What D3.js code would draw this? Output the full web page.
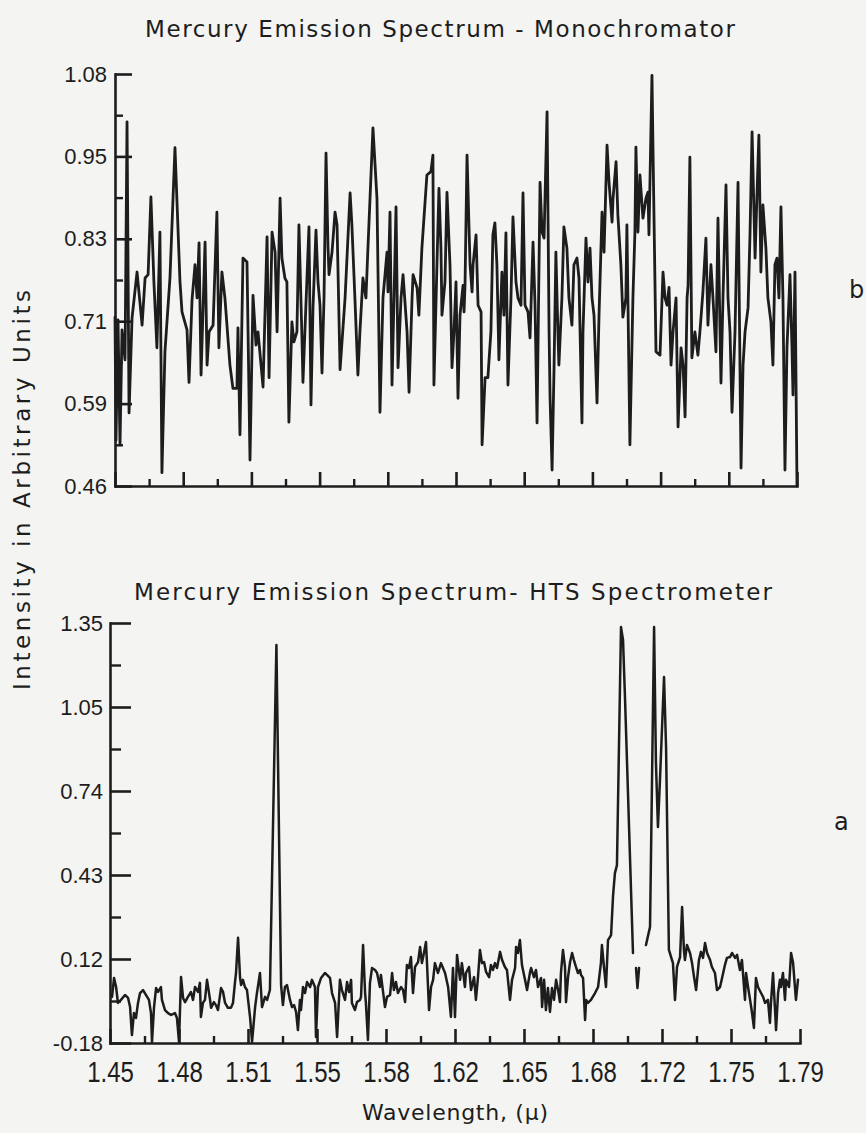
<!DOCTYPE html>
<html>
<head>
<meta charset="utf-8">
<script src="https://cdn.jsdelivr.net/npm/d3@7"></script>
<style>
  html, body { margin: 0; padding: 0; background: #f4f4f2; }
  svg { display: block; }
</style>
</head>
<body>
<svg id="chart" width="866" height="1133"></svg>
<script>
// ---- data -------------------------------------------------------------
// Wavelength axis labels (micrometres) and intensity labels for each panel
const xTickLabels = ["1.45","1.48","1.51","1.55","1.58","1.62","1.65","1.68","1.72","1.75","1.79"];
const monoTickLabels = ["0.46","0.59","0.71","0.83","0.95","1.08"];
const htsTickLabels = ["-0.18","0.12","0.43","0.74","1.05","1.35"];

// Panel b: monochromator scan
const monoWavelength = [
1.4500,1.4505,1.4515,1.4525,1.4535,1.4550,1.4560,1.4570,1.4585,1.4610,
1.4635,1.4650,1.4665,1.4679,1.4694,1.4709,1.4724,1.4734,1.4749,1.4774,
1.4799,1.4824,1.4834,1.4859,1.4869,1.4884,1.4899,1.4909,1.4919,1.4929,
1.4949,1.4959,1.4969,1.4989,1.5008,1.5018,1.5033,1.5048,1.5073,1.5088,
1.5108,1.5113,1.5123,1.5138,1.5158,1.5173,1.5188,1.5203,1.5213,1.5238,
1.5258,1.5268,1.5283,1.5298,1.5308,1.5323,1.5332,1.5347,1.5357,1.5367,
1.5382,1.5392,1.5407,1.5417,1.5432,1.5437,1.5457,1.5467,1.5477,1.5487,
1.5502,1.5512,1.5522,1.5532,1.5542,1.5552,1.5562,1.5567,1.5582,1.5597,
1.5607,1.5622,1.5647,1.5672,1.5681,1.5696,1.5711,1.5721,1.5736,1.5751,
1.5761,1.5786,1.5806,1.5821,1.5836,1.5856,1.5861,1.5871,1.5881,1.5891,
1.5901,1.5911,1.5926,1.5936,1.5956,1.5966,1.5981,1.5986,1.6006,1.6015,
1.6030,1.6055,1.6075,1.6085,1.6090,1.6105,1.6115,1.6125,1.6130,1.6145,
1.6155,1.6170,1.6180,1.6190,1.6200,1.6210,1.6220,1.6235,1.6240,1.6245,
1.6255,1.6270,1.6280,1.6285,1.6300,1.6310,1.6325,1.6330,1.6345,1.6359,
1.6374,1.6384,1.6394,1.6404,1.6414,1.6429,1.6439,1.6449,1.6459,1.6474,
1.6484,1.6499,1.6509,1.6524,1.6534,1.6544,1.6559,1.6569,1.6584,1.6594,
1.6604,1.6619,1.6629,1.6639,1.6654,1.6664,1.6669,1.6679,1.6689,1.6698,
1.6708,1.6713,1.6728,1.6738,1.6753,1.6763,1.6778,1.6788,1.6803,1.6813,
1.6828,1.6833,1.6848,1.6858,1.6868,1.6878,1.6888,1.6903,1.6913,1.6928,
1.6938,1.6953,1.6963,1.6978,1.6983,1.6998,1.7007,1.7022,1.7032,1.7047,
1.7052,1.7067,1.7082,1.7092,1.7097,1.7107,1.7117,1.7132,1.7147,1.7157,
1.7162,1.7177,1.7182,1.7197,1.7217,1.7232,1.7242,1.7252,1.7262,1.7272,
1.7282,1.7297,1.7307,1.7322,1.7332,1.7342,1.7352,1.7357,1.7366,1.7376,
1.7391,1.7406,1.7416,1.7431,1.7446,1.7456,1.7471,1.7481,1.7496,1.7506,
1.7521,1.7531,1.7546,1.7556,1.7566,1.7576,1.7591,1.7606,1.7621,1.7631,
1.7641,1.7656,1.7666,1.7676,1.7691,1.7700,1.7710,1.7720,1.7730,1.7745,
1.7755,1.7770,1.7780,1.7790,1.7800,1.7810,1.7820,1.7830,1.7840,1.7850,
1.7865,1.7875,1.7880,1.7890,1.7900
];
const monoIntensity = [
0.714,0.529,0.710,0.522,0.695,0.650,1.008,0.570,0.713,0.782,
0.702,0.773,0.778,0.895,0.767,0.668,0.842,0.480,0.662,0.773,
0.969,0.767,0.722,0.695,0.616,0.740,0.793,0.743,0.826,0.627,
0.827,0.642,0.692,0.702,0.872,0.668,0.782,0.743,0.642,0.607,
0.607,0.698,0.537,0.803,0.797,0.499,0.747,0.672,0.692,0.609,
0.835,0.623,0.842,0.812,0.692,0.893,0.803,0.773,0.767,0.556,
0.707,0.677,0.692,0.853,0.683,0.616,0.773,0.850,0.582,0.728,
0.845,0.767,0.732,0.630,0.743,0.961,0.818,0.778,0.812,0.872,
0.853,0.635,0.743,0.901,0.853,0.743,0.627,0.692,0.773,0.743,
0.818,0.999,0.893,0.571,0.743,0.812,0.752,0.872,0.612,0.743,
0.880,0.638,0.743,0.778,0.692,0.601,0.743,0.778,0.758,0.717,
0.818,0.928,0.933,0.958,0.612,0.793,0.908,0.818,0.717,0.767,
0.902,0.793,0.638,0.692,0.767,0.592,0.717,0.762,0.722,0.762,
0.958,0.793,0.752,0.793,0.838,0.732,0.722,0.522,0.623,0.623,
0.692,0.838,0.856,0.793,0.650,0.782,0.717,0.841,0.612,0.743,
0.865,0.767,0.743,0.732,0.901,0.732,0.722,0.683,0.827,0.732,
0.555,0.917,0.842,0.833,1.023,0.692,0.592,0.484,0.642,0.812,
0.692,0.642,0.743,0.850,0.818,0.743,0.702,0.793,0.803,0.773,
0.555,0.692,0.833,0.767,0.818,0.743,0.717,0.585,0.717,0.872,
0.812,0.973,0.917,0.857,0.893,0.948,0.868,0.793,0.714,0.743,
0.853,0.522,0.743,0.842,0.970,0.842,0.928,0.863,0.893,0.902,
0.838,1.078,0.969,0.662,0.657,0.782,0.743,0.732,0.759,0.642,
0.692,0.743,0.549,0.668,0.642,0.564,0.743,0.762,0.955,0.653,
0.692,0.657,0.692,0.752,0.833,0.702,0.793,0.743,0.662,0.863,
0.615,0.743,0.913,0.743,0.692,0.571,0.692,0.917,0.487,0.642,
0.692,0.728,0.842,0.993,0.803,0.893,0.988,0.782,0.883,0.818,
0.743,0.707,0.642,0.793,0.803,0.743,0.880,0.743,0.484,0.668,
0.778,0.668,0.597,0.782,0.460
];

// Panel a: HTS spectrometer scan (null marks a break in the pen trace)
const htsWavelength = [
1.4510,1.4520,1.4530,1.4539,1.4554,1.4574,1.4589,1.4599,1.4608,1.4618,
1.4628,1.4638,1.4648,1.4663,1.4677,1.4692,1.4702,1.4707,1.4717,1.4727,
1.4737,1.4751,1.4756,1.4771,1.4786,1.4801,1.4820,1.4830,1.4840,1.4850,
1.4860,1.4870,1.4884,1.4899,1.4909,1.4919,1.4934,1.4943,1.4948,1.4958,
1.4968,1.4978,1.4993,1.4998,1.5012,1.5022,1.5032,1.5047,1.5057,1.5067,
1.5081,1.5096,1.5106,1.5116,1.5121,1.5131,1.5141,1.5146,1.5155,1.5165,
1.5175,1.5190,1.5200,1.5215,1.5224,1.5239,1.5249,1.5264,1.5274,1.5288,
1.5320,1.5343,1.5352,1.5362,1.5372,1.5387,1.5397,1.5407,1.5417,1.5426,
1.5436,1.5441,1.5451,1.5461,1.5471,1.5486,1.5495,1.5510,1.5515,1.5525,
1.5540,1.5559,1.5569,1.5584,1.5594,1.5609,1.5619,1.5633,1.5643,1.5658,
1.5668,1.5678,1.5688,1.5692,1.5707,1.5717,1.5732,1.5737,1.5747,1.5757,
1.5761,1.5771,1.5781,1.5791,1.5806,1.5816,1.5830,1.5835,1.5855,1.5865,
1.5880,1.5890,1.5899,1.5909,1.5919,1.5934,1.5944,1.5954,1.5963,1.5973,
1.5983,1.5993,1.6003,1.6018,1.6028,1.6037,1.6047,1.6057,1.6062,1.6072,
1.6082,1.6092,1.6101,1.6116,1.6131,1.6151,1.6166,1.6180,1.6190,1.6200,
1.6210,1.6225,1.6234,1.6249,1.6254,1.6269,1.6279,1.6294,1.6303,1.6313,
1.6323,1.6333,1.6343,1.6353,1.6368,1.6377,1.6387,1.6397,1.6407,1.6422,
1.6432,1.6446,1.6456,1.6471,1.6481,1.6496,1.6501,1.6510,1.6520,1.6530,
1.6545,1.6555,1.6570,1.6575,1.6589,1.6599,1.6609,1.6624,1.6629,1.6639,
1.6648,1.6658,1.6668,1.6678,1.6688,1.6698,1.6708,1.6717,1.6722,1.6732,
1.6742,1.6747,1.6757,1.6767,1.6777,1.6786,1.6796,1.6806,1.6816,1.6821,
1.6831,1.6841,1.6846,1.6855,1.6870,1.6890,1.6905,1.6919,1.6924,1.6934,
1.6944,1.6954,1.6969,1.6979,1.6988,1.6998,1.7018,1.7028,1.7038,1.7077,
1.7085,1.7092,1.7099,1.7107,1.7124,1.7141,1.7161,1.7181,1.7190,1.7200,
1.7210,1.7230,1.7240,1.7254,1.7274,1.7284,1.7294,1.7309,1.7319,1.7328,
1.7333,1.7343,1.7358,1.7368,1.7378,1.7388,1.7402,1.7412,1.7422,1.7432,
1.7442,1.7457,1.7466,1.7481,1.7491,1.7506,1.7516,1.7530,1.7540,1.7555,
1.7565,1.7580,1.7590,1.7604,1.7614,1.7629,1.7634,1.7644,1.7654,1.7663,
1.7673,1.7683,1.7693,1.7708,1.7718,1.7728,1.7742,1.7752,1.7757,1.7767,
1.7777,1.7782,1.7792,1.7801,1.7806,1.7816,1.7826,1.7831,1.7846,1.7856,
1.7866,1.7875,1.7880,1.7890
];
const htsIntensity = [
-0.012,0.057,0.024,-0.034,-0.023,-0.005,-0.016,-0.049,-0.151,-0.071,
-0.089,-0.034,0.002,0.013,-0.005,-0.023,-0.071,-0.176,-0.049,0.020,
0.006,0.024,-0.023,-0.060,-0.071,-0.078,-0.071,-0.089,-0.176,0.060,
-0.016,-0.031,-0.012,0.006,-0.023,0.024,0.006,0.039,-0.085,-0.034,
-0.023,0.050,-0.023,-0.052,-0.031,-0.042,-0.060,0.020,0.006,-0.034,
-0.052,-0.052,-0.034,0.042,0.075,0.203,0.057,0.031,0.050,0.024,
0.013,-0.085,-0.176,-0.049,0.002,0.075,-0.049,-0.012,-0.023,0.013,
1.270,0.031,-0.042,0.024,0.031,-0.023,-0.049,-0.042,-0.067,-0.133,
-0.023,-0.060,0.024,0.002,0.042,0.024,0.050,0.024,-0.158,0.024,
0.057,0.075,0.068,0.057,0.002,-0.034,-0.158,0.050,0.013,-0.023,
0.042,0.006,0.050,-0.034,-0.060,-0.031,-0.023,-0.012,0.177,0.002,
-0.034,-0.169,0.039,0.093,0.086,0.075,0.024,0.068,-0.049,-0.012,
-0.005,0.075,0.013,0.042,0.002,0.024,0.013,-0.031,0.104,0.093,
0.133,0.002,0.097,0.115,0.170,0.111,0.148,0.188,0.111,-0.060,
0.024,0.050,0.111,0.075,0.111,0.075,0.024,-0.085,0.093,-0.085,
0.141,0.050,0.111,0.024,0.075,0.097,0.013,0.060,-0.023,0.057,
0.159,0.111,0.115,0.079,0.060,0.104,0.086,0.111,0.093,0.152,
0.122,0.097,0.086,-0.023,0.050,0.093,0.170,0.148,0.195,0.104,
0.050,0.013,0.079,0.093,0.060,0.086,0.024,0.057,-0.049,0.050,
-0.060,0.020,-0.067,0.020,-0.023,0.050,0.013,-0.031,0.075,0.159,
0.097,-0.031,0.060,0.115,0.148,0.122,0.097,0.075,0.086,0.068,
0.057,-0.096,-0.023,-0.034,-0.023,0.002,0.024,0.111,0.177,0.097,
0.024,0.195,0.213,0.359,0.439,0.468,1.335,1.288,1.070,0.148,
null,0.093,0.020,0.093,null,0.177,0.243,1.335,0.844,0.607,
0.778,1.153,0.898,0.159,0.111,-0.023,0.097,0.133,0.315,0.159,
0.122,0.177,0.148,0.111,0.060,0.013,0.122,0.152,0.130,0.184,
0.148,0.122,0.097,0.075,0.013,0.024,0.057,0.104,0.130,0.133,
0.148,0.130,0.141,0.086,0.122,-0.023,0.075,0.024,-0.023,-0.067,
-0.125,0.057,0.024,0.002,-0.012,-0.034,-0.023,-0.107,-0.034,0.075,
-0.060,-0.133,0.002,0.050,0.024,0.075,-0.023,0.050,0.024,0.148,
0.111,0.024,-0.023,0.050
];

// ---- drawing ----------------------------------------------------------
const ink = "#1d1d1d";
const numFont = "'Liberation Sans', Arial, sans-serif";
const textFont = "'DejaVu Sans', sans-serif";
const svg = d3.select("#chart");

const wlDomain = [1.45, 1.79];
const xMajor = xTickLabels.map((_, i) => wlDomain[0] + i * (wlDomain[1] - wlDomain[0]) / (xTickLabels.length - 1));
const xMinor = xMajor.slice(0, -1).map((v, i) => (v + xMajor[i + 1]) / 2);

function evenTicks(domain, n) {
  return d3.range(n).map(i => domain[0] + i * (domain[1] - domain[0]) / (n - 1));
}
function midpoints(vals) {
  return vals.slice(0, -1).map((v, i) => (v + vals[i + 1]) / 2);
}
function styleAxis(g, w) {
  g.attr("font-family", null).attr("font-size", null);
  g.select(".domain").attr("stroke", ink).attr("stroke-width", w).attr("stroke-linecap", "square");
  g.selectAll(".tick line").attr("stroke", ink).attr("stroke-width", w);
  g.selectAll(".tick text").attr("fill", ink);
}

function drawPanel(cfg) {
  const x = d3.scaleLinear().domain(wlDomain).range(cfg.xRange);
  const y = d3.scaleLinear().domain(cfg.yDomain).range(cfg.yRange);
  const yMajor = evenTicks(cfg.yDomain, cfg.yLabels.length);
  const yMinor = midpoints(yMajor);
  const g = svg.append("g");

  // x axis: ticks point up into the plot
  const xBase = cfg.yRange[0];
  const gxMinor = g.append("g").attr("transform", `translate(0,${xBase})`)
    .call(d3.axisBottom(x).tickValues(xMinor).tickSize(-cfg.xMinorLen).tickSizeOuter(0).tickFormat(""));
  gxMinor.select(".domain").remove();
  styleAxis(gxMinor, 2.4);

  const gx = g.append("g").attr("transform", `translate(0,${xBase})`)
    .call(d3.axisBottom(x).tickValues(xMajor).tickSize(-cfg.xMajorLen).tickSizeOuter(0)
      .tickPadding(cfg.xLabelPad)
      .tickFormat((d, i) => cfg.showXLabels ? xTickLabels[i] : ""));
  styleAxis(gx, 2.6);
  gx.selectAll(".tick text")
    .attr("font-family", numFont)
    .attr("font-size", 30)
    .attr("transform", "scale(0.8,1)");

  // y axis: ticks point right into the plot
  const yBase = cfg.xRange[0];
  const gyMinor = g.append("g").attr("transform", `translate(${yBase},0)`)
    .call(d3.axisLeft(y).tickValues(yMinor).tickSize(-cfg.yMinorLen).tickSizeOuter(0).tickFormat(""));
  gyMinor.select(".domain").remove();
  styleAxis(gyMinor, 2.4);

  const gy = g.append("g").attr("transform", `translate(${yBase},0)`)
    .call(d3.axisLeft(y).tickValues(yMajor).tickSize(-cfg.yMajorLen).tickSizeOuter(0)
      .tickPadding(cfg.yLabelPad)
      .tickFormat((d, i) => cfg.yLabels[i]));
  styleAxis(gy, 2.6);
  gy.selectAll(".tick text")
    .attr("font-family", numFont)
    .attr("font-size", cfg.yLabelSize);

  // spectrum trace
  const pts = cfg.wl.map((w, i) => [w, cfg.val[i]]);
  const line = d3.line()
    .defined(d => d[1] !== null)
    .x(d => x(d[0]))
    .y(d => y(d[1]));
  g.append("path")
    .datum(pts)
    .attr("d", line)
    .attr("fill", "none")
    .attr("stroke", ink)
    .attr("stroke-width", cfg.lineWidth)
    .attr("stroke-linejoin", "round")
    .attr("stroke-linecap", "round");

  // panel title
  g.append("text")
    .attr("x", cfg.title.x)
    .attr("y", cfg.title.y)
    .attr("text-anchor", "middle")
    .attr("font-family", textFont)
    .attr("font-size", 23)
    .attr("fill", ink)
    .attr("textLength", cfg.title.len)
    .attr("lengthAdjust", "spacing")
    .text(cfg.title.text);

  // panel letter
  g.append("text")
    .attr("x", cfg.tag.x)
    .attr("y", cfg.tag.y)
    .attr("font-family", textFont)
    .attr("font-size", 24)
    .attr("fill", ink)
    .text(cfg.tag.text);
}

drawPanel({
  xRange: [115, 797], yDomain: [0.46, 1.08], yRange: [486, 74],
  yLabels: monoTickLabels, yLabelSize: 22, yLabelPad: 8,
  xMajorLen: 14, xMinorLen: 7, yMajorLen: 17, yMinorLen: 8,
  showXLabels: false, xLabelPad: 18,
  wl: monoWavelength, val: monoIntensity, lineWidth: 2.8,
  title: { text: "Mercury Emission Spectrum - Monochromator", x: 440, y: 37, len: 590 },
  tag: { text: "b", x: 849, y: 298 }
});

drawPanel({
  xRange: [110, 800], yDomain: [-0.18, 1.35], yRange: [1043, 623],
  yLabels: htsTickLabels, yLabelSize: 22, yLabelPad: 7,
  xMajorLen: 14, xMinorLen: 7, yMajorLen: 21, yMinorLen: 11,
  showXLabels: true, xLabelPad: 18,
  wl: htsWavelength, val: htsIntensity, lineWidth: 2.5,
  title: { text: "Mercury Emission Spectrum- HTS Spectrometer", x: 453, y: 600, len: 638 },
  tag: { text: "a", x: 834, y: 830 }
});

// shared axis titles
svg.append("text")
  .attr("transform", "translate(30,490) rotate(-90)")
  .attr("text-anchor", "middle")
  .attr("font-family", textFont)
  .attr("font-size", 23)
  .attr("fill", ink)
  .attr("textLength", 400)
  .attr("lengthAdjust", "spacing")
  .text("Intensity in Arbitrary Units");

svg.append("text")
  .attr("x", 455)
  .attr("y", 1120)
  .attr("text-anchor", "middle")
  .attr("font-family", textFont)
  .attr("font-size", 22)
  .attr("fill", ink)
  .attr("textLength", 186)
  .attr("lengthAdjust", "spacing")
  .text("Wavelength, (\u03bc)");
</script>
</body>
</html>
